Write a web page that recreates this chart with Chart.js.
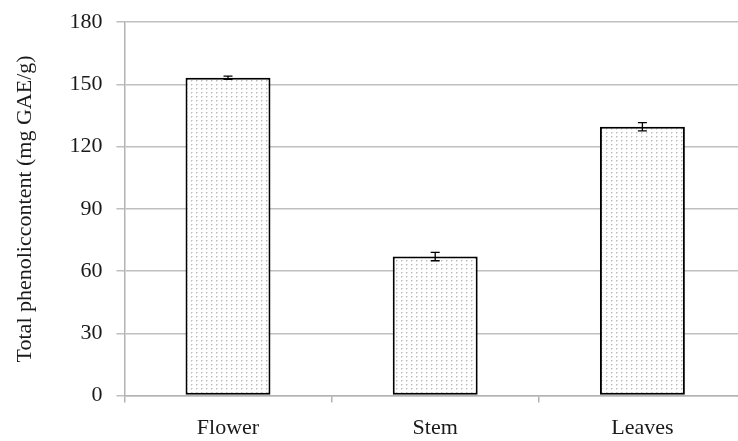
<!DOCTYPE html>
<html>
<head>
<meta charset="utf-8">
<script src="https://cdn.jsdelivr.net/npm/chart.js@4/dist/chart.umd.min.js"></script>
<style>
  html, body { margin: 0; padding: 0; background: #fff; overflow: hidden; }
  #wrap { width: 738px; height: 441px; overflow: hidden; position: relative; }
  #c { position: absolute; left: 0; top: -5px; }
</style>
</head>
<body>
<div id="wrap"><canvas id="c" width="748" height="462"></canvas></div>
<script>
// Plant parts and their total phenolic content (mg GAE/g) with error margins
const categories = ['Flower', 'Stem', 'Leaves'];
const phenolicValues = [153.2, 67.0, 129.6];
const phenolicErrors = [0.8, 2.0, 2.0];
const yTicks = [0, 30, 60, 90, 120, 150, 180];

const SERIF = '"Liberation Serif", "DejaVu Serif", serif';

// Light dotted fill for the bars
function dotPattern() {
  const tile = document.createElement('canvas');
  tile.width = 5; tile.height = 4;
  const t = tile.getContext('2d');
  t.fillStyle = '#ffffff';
  t.fillRect(0, 0, 5, 4);
  t.fillStyle = '#bcbcbc';
  t.fillRect(1, 1, 1, 1);
  t.fillStyle = '#dcdcdc';
  t.fillRect(2, 1, 1, 1);
  t.fillRect(1, 2, 1, 1);
  return document.getElementById('c').getContext('2d').createPattern(tile, 'repeat');
}

// Draws the error bars (vertical whisker with caps) on top of each bar
const errorBars = {
  id: 'errorBars',
  afterDatasetsDraw(chart) {
    const ctx = chart.ctx;
    const y = chart.scales.y;
    const meta = chart.getDatasetMeta(0);
    ctx.save();
    ctx.strokeStyle = '#000';
    ctx.lineWidth = 1.3;
    meta.data.forEach((bar, i) => {
      const v = phenolicValues[i], e = phenolicErrors[i];
      const yHi = y.getPixelForValue(v + e);
      const yLo = y.getPixelForValue(v - e);
      const x = bar.x, cap = 4.5;
      ctx.beginPath();
      ctx.moveTo(x, yHi); ctx.lineTo(x, yLo);
      ctx.moveTo(x - cap, yHi); ctx.lineTo(x + cap, yHi);
      ctx.moveTo(x - cap, yLo); ctx.lineTo(x + cap, yLo);
      ctx.stroke();
    });
    ctx.restore();
  }
};

new Chart(document.getElementById('c'), {
  type: 'bar',
  data: {
    labels: categories,
    datasets: [{
      data: phenolicValues,
      backgroundColor: dotPattern(),
      borderColor: '#000',
      borderWidth: 2,
      borderSkipped: false,
      categoryPercentage: 1.0,
      barPercentage: 0.41
    }]
  },
  options: {
    responsive: false,
    animation: false,
    layout: { padding: { top: 3, right: 2, left: 12, bottom: 4 } },
    plugins: { legend: { display: false }, tooltip: { enabled: false } },
    scales: {
      x: {
        offset: true,
        grid: {
          offset: true,
          drawOnChartArea: false,
          drawTicks: true,
          tickLength: 7,
          color: '#b3b3b3',
          lineWidth: 1.5
        },
        border: { color: '#b3b3b3', width: 1.5 },
        ticks: {
          color: '#1a1a1a',
          padding: 12,
          font: { family: SERIF, size: 22 }
        }
      },
      y: {
        min: 0,
        max: 180,
        afterBuildTicks(scale) { scale.ticks = yTicks.map(v => ({ value: v })); },
        grid: {
          color: '#bfbfbf',
          lineWidth: 1.5,
          tickLength: 8
        },
        border: { color: '#b3b3b3', width: 1.5 },
        ticks: {
          color: '#1a1a1a',
          padding: 14,
          font: { family: SERIF, size: 22 }
        },
        title: {
          display: true,
          text: 'Total phenoliccontent (mg GAE/g)',
          color: '#1a1a1a',
          padding: { top: 0, bottom: 17 },
          font: { family: SERIF, size: 22 }
        }
      }
    }
  },
  plugins: [errorBars]
});
</script>
</body>
</html>
